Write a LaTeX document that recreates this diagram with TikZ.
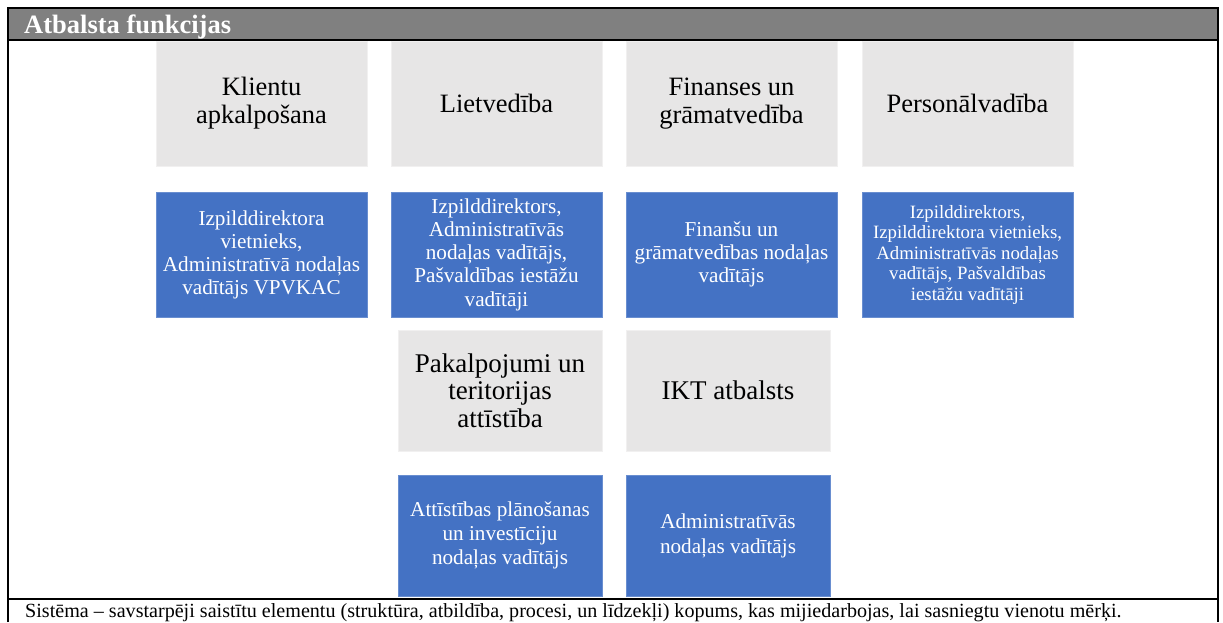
\documentclass[tikz,border=0pt]{standalone}
\usepackage{fontspec}
\setmainfont{Liberation Serif}
\usetikzlibrary{positioning}
\definecolor{abHeader}{HTML}{808080}
\definecolor{abArea}{HTML}{E7E6E6}
\definecolor{abRole}{HTML}{4472C4}

\begin{document}
\begin{tikzpicture}[x=1pt,y=-1pt,
  area/.style={fill=abArea, draw=abArea!60!white, inner sep=0pt, align=center,
    minimum width=211pt, minimum height=125pt,
    font=\fontsize{26.5}{28}\selectfont},
  role/.style={fill=abRole, draw=abRole!80!white, text=white, inner sep=0pt,
    align=center, minimum width=211pt, minimum height=125pt,
    font=\fontsize{21.2}{23}\selectfont}]
  \useasboundingbox (0,0) rectangle (1223,622);

  % frame and header
  \fill[abHeader] (8,8) rectangle (1218,40);
  \draw[line width=2.5pt] (8,622) -- (8,8) -- (1218,8) -- (1218,622);
  \draw[line width=2pt] (8,40) -- (1218,40);
  \draw[line width=2pt] (8,599) -- (1218,599);
  \node[anchor=base west, inner sep=0pt, text=white,
    font=\bfseries\fontsize{26.5}{28}\selectfont]
    (title) at (24,33) {Atbalsta funkcijas};

  % first row
  \node[area] (klienti) at (261.5,103.5) {Klientu\\apkalpošana};
  \node[area] (lietv) at (496.5,103.5) {Lietvedība};
  \node[area] (finanses) at (731.5,103.5) {Finanses un\\grāmatvedība};
  \node[area] (personal) at (967.5,103.5) {Personālvadība};

  \node[role] (rKlienti) at (261.5,254.5)
    {Izpilddirektora\\vietnieks,\\Administratīvā nodaļas\\vadītājs VPVKAC};
  \node[role, font=\fontsize{21.2}{23.2}\selectfont] (rLietv) at (496.5,254.5)
    {Izpilddirektors,\\Administratīvās\\nodaļas vadītājs,\\Pašvaldības iestāžu\\vadītāji};
  \node[role] (rFinanses) at (731.5,254.5)
    {Finanšu un\\grāmatvedības nodaļas\\vadītājs};
  \node[role, font=\fontsize{18.8}{20.5}\selectfont] (rPersonal) at (967.5,254.5)
    {Izpilddirektors,\\Izpilddirektora vietnieks,\\Administratīvās nodaļas\\vadītājs, Pašvaldības\\iestāžu vadītāji};

  % second row
  \node[area, minimum width=204pt, minimum height=121pt,
    font=\fontsize{27}{27.5}\selectfont] (pakalp) at (500,390.5)
    {Pakalpojumi un\\teritorijas\\attīstība};
  \node[area, minimum width=204pt, minimum height=121pt,
    font=\fontsize{27}{27.5}\selectfont] (ikt) at (728,390.5) {IKT atbalsts};

  \node[role, minimum width=204pt, minimum height=121pt,
    font=\fontsize{21.2}{24}\selectfont] (rPakalp) at (500,535.5)
    {Attīstības plānošanas\\un investīciju\\nodaļas vadītājs};
  \node[role, minimum width=204pt, minimum height=121pt,
    font=\fontsize{21.2}{25}\selectfont] (rIkt) at (728,535.5)
    {Administratīvās\\nodaļas vadītājs};

  % footer
  \node[anchor=base west, inner sep=0pt, font=\fontsize{20.1}{22}\selectfont]
    (note) at (25,617)
    {Sistēma – savstarpēji saistītu elementu (struktūra, atbildība, procesi, un līdzekļi) kopums, kas mijiedarbojas, lai sasniegtu vienotu mērķi.};
\end{tikzpicture}
\end{document}
